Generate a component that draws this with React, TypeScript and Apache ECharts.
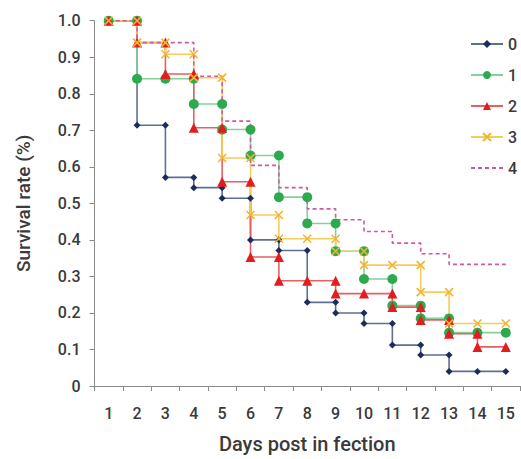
import React, { useEffect, useRef } from "react";
import * as echarts from "echarts";

const days = ["1", "2", "3", "4", "5", "6", "7", "8", "9", "10", "11", "12", "13", "14", "15"];
const seriesNames = ["0", "1", "2", "3", "4"];
const s0 = [1.0, 0.714, 0.571, 0.543, 0.514, 0.4, 0.371, 0.229, 0.2, 0.171, 0.112, 0.085, 0.04, 0.04, 0.04];
const s1 = [1.0, 0.841, 0.841, 0.772, 0.702, 0.631, 0.517, 0.445, 0.369, 0.293, 0.22, 0.185, 0.146, 0.146, 0.146];
const s2 = [1.0, 0.94, 0.854, 0.707, 0.559, 0.353, 0.288, 0.288, 0.253, 0.253, 0.216, 0.181, 0.143, 0.107, 0.107];
const s3 = [1.0, 0.94, 0.908, 0.844, 0.624, 0.468, 0.403, 0.403, 0.369, 0.331, 0.331, 0.257, 0.171, 0.171, 0.171];
const s4 = [1.0, 0.94, 0.94, 0.848, 0.725, 0.604, 0.543, 0.485, 0.455, 0.423, 0.391, 0.362, 0.333, 0.333, 0.333];
const yTicks = { min: 0, max: 1, interval: 0.1 };

function stepPoints(vals: number[]): number[][] {
  const pts: number[][] = [];
  vals.forEach((v, i) => {
    const d = i + 1;
    if (i > 0 && vals[i - 1] !== v) pts.push([d, vals[i - 1]]);
    pts.push([d, v]);
  });
  return pts;
}

const FONT = "Roboto";

export default function App() {
  const ref = useRef<HTMLDivElement>(null);
  useEffect(() => {
    if (!ref.current) return;
    const chart = echarts.init(ref.current, null, { renderer: "svg" });
    const mk = (
      name: string,
      vals: number[],
      lineColor: string,
      markColor: string,
      symbol: string,
      size: number,
      extra: any = {}
    ) => ({
      name,
      type: "line",
      xAxisIndex: 1,
      data: stepPoints(vals),
      symbol,
      symbolSize: size,
      showSymbol: symbol !== "none",
      lineStyle: { color: lineColor, width: 1.6, ...(extra.lineStyle || {}) },
      itemStyle: { color: markColor, ...(extra.itemStyle || {}) },
      emphasis: { disabled: true },
    });
    chart.setOption({
      animation: false,
      grid: { left: 94.5, right: 1, top: 20.7, bottom: 65.7 },
      legend: {
        orient: "vertical",
        left: 465,
        top: 31,
        itemWidth: 32,
        itemHeight: 10,
        itemGap: 15,
        textStyle: { fontFamily: FONT, fontSize: 16, fontWeight: 500, color: "#3a3a3a" },
        data: [
          { name: "0" },
          { name: "1" },
          { name: "2" },
          { name: "3" },
          { name: "4", itemStyle: { opacity: 0 } },
        ],
      },
      xAxis: [
        {
          type: "category",
          data: days,
          boundaryGap: true,
          name: "Days post in fection",
          nameLocation: "middle",
          nameGap: 48,
          nameTextStyle: { fontFamily: FONT, fontSize: 20, fontWeight: 500, color: "#3a3a3a" },
          axisLine: { lineStyle: { color: "#8a8a8a", width: 1 } },
          axisTick: { show: true, length: 5, lineStyle: { color: "#8a8a8a" } },
          axisLabel: { margin: 19, fontFamily: FONT, fontSize: 16, fontWeight: 500, color: "#3a3a3a" },
          splitLine: { show: false },
        },
        { type: "value", min: 0.5, max: 15.5, show: false, splitLine: { show: false } },
      ],
      yAxis: {
        type: "value",
        min: yTicks.min,
        max: yTicks.max,
        interval: yTicks.interval,
        name: "Survival rate (%)",
        nameLocation: "middle",
        nameGap: 62,
        nameTextStyle: { fontFamily: FONT, fontSize: 19, fontWeight: 500, color: "#3a3a3a" },
        axisLine: { show: true, lineStyle: { color: "#8a8a8a", width: 1 } },
        axisTick: { show: true, length: 5, lineStyle: { color: "#8a8a8a" } },
        axisLabel: {
          margin: 14,
          fontFamily: FONT,
          fontSize: 16,
          fontWeight: 500,
          color: "#3a3a3a",
          formatter: (v: number) => (v === 0 ? "0" : v.toFixed(1)),
        },
        splitLine: { show: false },
      },
      series: [
        mk(seriesNames[0], s0, "#5d6f93", "#1b2d5c", "diamond", 7),
        mk(seriesNames[1], s1, "#86d09b", "#2eaa4e", "circle", 10),
        mk(seriesNames[2], s2, "#e86060", "#e31c1f", "triangle", 10),
        mk(seriesNames[3], s3, "#f5cd5a", "#f1b534", "path://M0,0L10,10M10,0L0,10", 8, {
          itemStyle: { borderColor: "#f1b534", borderWidth: 1.6 },
        }),
        mk(seriesNames[4], s4, "#cd5aa2", "#cd5aa2", "none", 0, { lineStyle: { type: [4, 3] } }),
      ],
    });
    return () => chart.dispose();
  }, []);
  return (
    <div
      ref={ref}
      style={{ position: "absolute", left: 0, top: 0, width: 521, height: 459 }}
    />
  );
}
